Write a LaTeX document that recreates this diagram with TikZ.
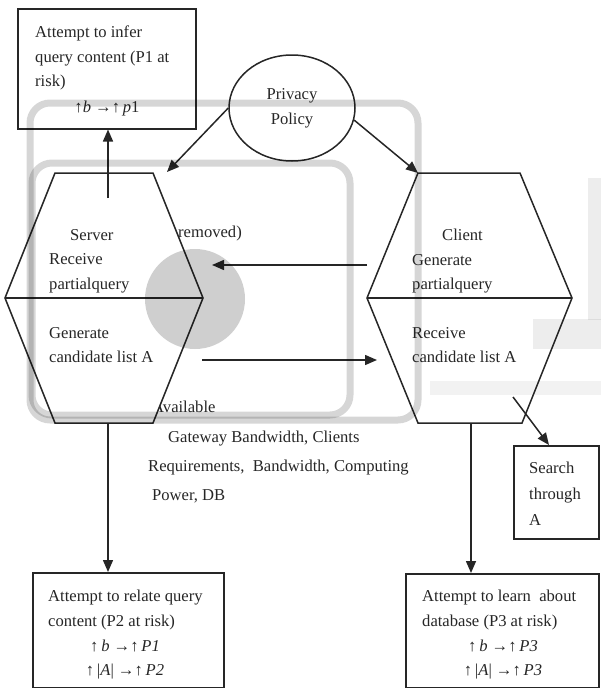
\documentclass[tikz,border=0pt]{standalone}
\usepackage{fontspec}
\setmainfont{Liberation Serif}
\usetikzlibrary{arrows.meta,shapes.geometric}
\newcommand\tstrut{\rule{0pt}{12pt}}
\begin{document}
\begin{tikzpicture}[x=1pt,y=-1pt,
  line/.style={draw=black!85, line width=1.5pt},
  arr/.style={line, -{Triangle[length=12pt,width=10pt]}},
  boxnode/.style={line, rectangle, inner sep=0pt, anchor=north west, fill=white},
  txt/.style={inner sep=0pt, anchor=north west, align=left, text=black!85,
    font=\fontsize{16.6}{24.5}\selectfont, execute at begin node=\tstrut},
  ctxt/.style={inner sep=0pt, anchor=base, text=black!85, font=\fontsize{16.6}{24.5}\selectfont},
  wm/.style={draw=black, draw opacity=0.16, line width=7pt, rounded corners=20pt},
]
\useasboundingbox (0,0) rectangle (601,688);

% texts partly hidden behind the server hexagon
\node[txt] (removed) at (178,225) {removed)};
\node[txt, font=\fontsize{16.6}{29.3}\selectfont] (avail) at (148,401)
  {\hspace*{4pt}Available\\\hspace*{20pt}Gateway Bandwidth, Clients\\Requirements,\ \ Bandwidth, Computing\\\hspace*{4pt}Power, DB};

% server hexagon
\coordinate (sTL) at (55,173);  \coordinate (sTR) at (153,173);
\coordinate (sR)  at (203,298); \coordinate (sBR) at (153,423);
\coordinate (sBL) at (55,423);  \coordinate (sL)  at (5,298);
\draw[line, fill=white] (sTL) -- (sTR) -- (sR) -- (sBR) -- (sBL) -- (sL) -- cycle;
\draw[line] (sL) -- (sR);

% client hexagon
\coordinate (cTL) at (418,173); \coordinate (cTR) at (520,173);
\coordinate (cR)  at (572,298); \coordinate (cBR) at (522,423);
\coordinate (cBL) at (418,423); \coordinate (cL)  at (367,298);
\draw[line, fill=white] (cTL) -- (cTR) -- (cR) -- (cBR) -- (cBL) -- (cL) -- cycle;
\draw[line] (cL) -- (cR);

% hexagon texts
\node[txt] (srvtop) at (49,229) {\hspace*{21pt}Server\\Receive\\partialquery};
\node[txt] (srvbot) at (49,327) {Generate\\candidate list A};
\node[txt] (clitop) at (412,229) {\hspace*{30pt}Client\\Generate\\partialquery};
\node[txt] (clibot) at (412,327) {Receive\\candidate list A};

% boxes
\node[boxnode, minimum width=178pt, minimum height=120pt] (infer) at (17,8) {};
\node[txt] (infertxt) at (35,26) {Attempt to infer\\query content (P1 at\\risk)};
\node[ctxt] (infermath) at (107,112) {↑\textit{b} →↑\,\textit{p}1};

\node[boxnode, minimum width=191pt, minimum height=115pt] (risk2) at (32,572) {};
\node[txt] (risk2txt) at (48,590) {Attempt to relate query\\content (P2 at risk)};
\node[ctxt] (risk2m1) at (125,651) {↑\,\textit{b} →↑\,\textit{P1}};
\node[ctxt] (risk2m2) at (125,675) {↑\,|\textit{A}| →↑\,\textit{P2}};

\node[boxnode, minimum width=193pt, minimum height=114pt] (risk3) at (405,573) {};
\node[txt] (risk3txt) at (422,590) {Attempt to learn\ \ about\\database (P3 at risk)};
\node[ctxt] (risk3m1) at (503,651) {↑\,\textit{b} →↑\,\textit{P3}};
\node[ctxt] (risk3m2) at (503,675) {↑\,|\textit{A}| →↑\,\textit{P3}};

\node[boxnode, minimum width=85pt, minimum height=93pt] (search) at (513,445) {};
\node[txt, font=\fontsize{16.6}{26}\selectfont] (searchtxt) at (529,462) {Search\\through\\A};

% privacy policy
\node[line, ellipse, fill=white, minimum width=126pt, minimum height=106pt, inner sep=0pt,
  align=center, text=black!85, font=\fontsize{16.6}{25}\selectfont] (policy) at (292,108) {Privacy\\Policy};

% connectors
\coordinate (sUp) at (108,198);
\coordinate (sArr) at (167,172);
\coordinate (cIn) at (367,265);  \coordinate (sIn) at (212,265);
\coordinate (sOut) at (202,360); \coordinate (cOut) at (377,360);
\coordinate (sBot) at (108,423); \coordinate (cBot) at (471,423);
\coordinate (cSrch) at (513,397); \coordinate (srchIn) at (549,445);

\draw[arr] (sUp) -- (sUp |- infer.south);
\draw[arr] (policy.west) -- (sArr);
\draw[arr] (policy.-11) -- (cTL);
\draw[arr] (cIn) -- (sIn);
\draw[arr] (sOut) -- (cOut);
\draw[arr] (sBot) -- (sBot |- risk2.north);
\draw[arr] (cBot) -- (cBot |- risk3.north);
\draw[arr] (cSrch) -- (srchIn);

% watermark
\draw[wm] (30,103) rectangle (418,420);
\draw[wm] (32,163) rectangle (350,415);
\fill[black, fill opacity=0.19] (195,299) circle[radius=50];
\draw[draw=black, draw opacity=0.07, line width=13pt] (594,178) -- (594,320);
\draw[draw=black, draw opacity=0.07, line width=30pt] (533,334) -- (601,334);
\draw[draw=black, draw opacity=0.05, line width=14pt] (430,388) -- (601,388);
\end{tikzpicture}
\end{document}
